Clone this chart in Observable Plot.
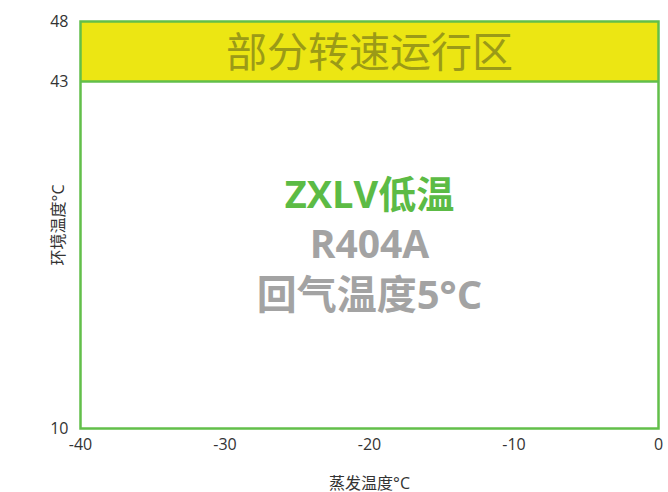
<!DOCTYPE html>
<html>
<head>
<meta charset="utf-8">
<script src="https://cdn.jsdelivr.net/npm/d3@7"></script>
<script src="https://cdn.jsdelivr.net/npm/@observablehq/plot@0.6"></script>
<style>
  html, body { margin: 0; padding: 0; background: #fff; }
  svg { display: block; }
</style>
</head>
<body>
<div id="chart"></div>
<script>
const xTicks = [-40, -30, -20, -10, 0];
const yTicks = [10, 43, 48];
const band = [{x1: -40, x2: 0, y1: 43, y2: 48, label: "部分转速运行区"}];
const centerLines = [
  {text: "ZXLV低温", color: "#5cbb45", dy: -29, size: 38},
  {text: "R404A", color: "#a3a3a3", dy: 21, size: 39},
  {text: "回气温度5°C", color: "#a3a3a3", dy: 71, size: 40}
];
const xLabel = "蒸发温度°C";
const yLabel = "环境温度°C";

// piecewise (non-uniform) vertical axis as in the reference
const yPiece = d3.scaleLinear().domain([10, 43, 48]).range([0, 347, 407]);

const chart = Plot.plot({
  width: 668,
  height: 492,
  marginLeft: 80,
  marginRight: 10,
  marginTop: 21,
  marginBottom: 64,
  style: {fontFamily: "'Open Sans', 'Noto Sans CJK SC', sans-serif", fontSize: "16px", color: "#333", background: "#fff"},
  x: {domain: [-40, 0]},
  y: {domain: [yPiece(10), yPiece(48)]},
  marks: [
    Plot.rect(band, {x1: "x1", x2: "x2", y1: d => yPiece(d.y1), y2: d => yPiece(d.y2), fill: "#ece613"}),
    Plot.ruleY(band, {y: d => yPiece(d.y1), stroke: "#62bf4a", strokeWidth: 2.5}),
    Plot.text(band, {x: d => (d.x1 + d.x2) / 2, y: d => yPiece((d.y1 + d.y2) / 2), dy: 2, text: "label", fill: "#9b9a17", fontSize: 41, fontFamily: "'Noto Sans CJK SC', sans-serif"}),
    ...centerLines.map(l => Plot.text([l], {frameAnchor: "middle", text: "text", fill: l.color, dy: l.dy, fontSize: l.size, fontWeight: "bold", fontFamily: "'Open Sans', 'Noto Sans CJK SC', sans-serif"})),
    Plot.frame({stroke: "#62bf4a", strokeWidth: 2.5}),
    Plot.axisX({ticks: xTicks, tickFormat: d => String(d), tickSize: 0, tickPadding: 10, fontSize: 16, label: xLabel, labelAnchor: "center", labelOffset: 60, labelArrow: false}),
    Plot.axisY({ticks: yTicks.map(yPiece), tickFormat: v => String(Math.round(yPiece.invert(v))), tickSize: 0, tickPadding: 12, fontSize: 16, label: yLabel, labelAnchor: "center", labelOffset: 28, labelArrow: false})
  ]
});
document.getElementById("chart").appendChild(chart);
</script>
</body>
</html>
